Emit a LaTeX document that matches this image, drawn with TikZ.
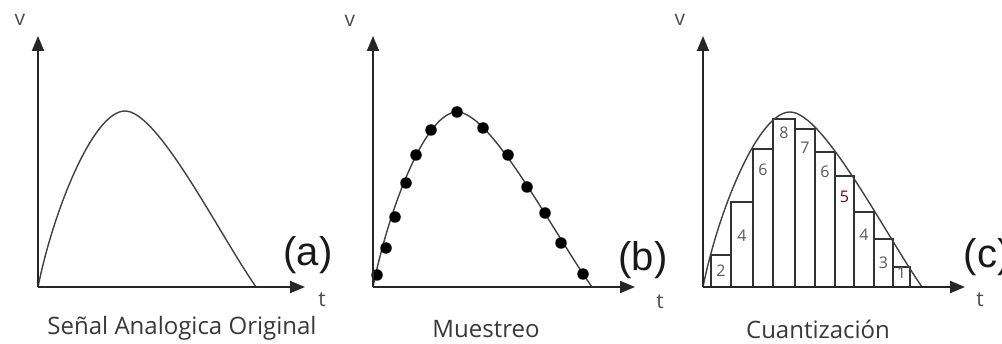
\documentclass[tikz,border=0pt]{standalone}
\usepackage{fontspec}
\setmainfont{Open Sans}
\newfontfamily\tagfont{Liberation Sans}
\usetikzlibrary{arrows.meta}
\begin{document}
\begin{tikzpicture}[x=1pt, y=1pt,
    axis/.style={draw=black!85, line width=2pt, -{Triangle[length=15pt,width=12pt]}},
    curve/.style={draw=black!75, line width=1.4pt},
    sample/.style={circle, fill=black, inner sep=0pt, minimum size=11.5pt},
    level/.style={draw=black!80, line width=1.2pt},
    axlabel/.style={text=black!70, font=\fontsize{21}{21}\selectfont},
    tag/.style={text=black!90, font=\tagfont\fontsize{40}{40}\selectfont},
    caption/.style={text=black!78, font=\fontsize{24}{24}\selectfont},
    num/.style={font=\fontsize{16}{16}\selectfont}]
    \useasboundingbox (0,0) rectangle (1002,343);
    % (a) analog signal
    \begin{scope}[shift={(38,56)}]
        \coordinate (oa) at (0,0);
        \coordinate (va) at (0,251);
        \coordinate (ta) at (267,0);
        \coordinate (pa) at (87,176);
        \coordinate (ea) at (218,0);
        \draw[curve] (oa) .. controls (15,75) and (55,176) .. (pa) .. controls (120,176) and (180,55) .. (ea);
        \draw[axis] (oa) -- (va);
        \draw[axis] (oa) -- (ta);
        \node[axlabel] (lva) at (-18,267) {v};
        \node[axlabel] (lta) at (284,-13) {t};
        \node[tag] (tga) at (270,32) {(a)};
        \node[caption] (cpa) at (144,-41) {Señal Analogica Original};
    \end{scope}
    % (b) sampling
    \begin{scope}[shift={(373,56)}]
        \coordinate (ob) at (0,0);
        \coordinate (vb) at (0,251);
        \coordinate (tb) at (262,0);
        \coordinate (pb) at (84,175);
        \coordinate (eb) at (219,0);
        \draw[curve] (ob) .. controls (15,75) and (52,175) .. (pb) .. controls (118,175) and (180,55) .. (eb);
        \foreach \sx/\sy [count=\i] in {4/12, 13/39, 22/70, 33/104, 43/132, 58/157, 84/175,
            110/159, 135/132, 154/100, 172/74, 188/44, 210/13}
            \node[sample] (s\i) at (\sx,\sy) {};
        \draw[axis] (ob) -- (vb);
        \draw[axis] (ob) -- (tb);
        \node[axlabel] (lvb) at (-23,266) {v};
        \node[axlabel] (ltb) at (287,-15) {t};
        \node[tag] (tgb) at (270,27) {(b)};
        \node[caption] (cpb) at (113,-42) {Muestreo};
    \end{scope}
    % (c) quantization
    \begin{scope}[shift={(703,56)}]
        \coordinate (oc) at (0,0);
        \coordinate (vc) at (0,251);
        \coordinate (tc) at (262,0);
        \coordinate (pc) at (87,175);
        \coordinate (ec) at (219,0);
        \foreach \xa/\xb/\h/\n/\ly/\c [count=\i] in {8/28/32/2/16/black!65, 28/50/85/4/51/black!65,
            50/70/138/6/117/black!65, 70/92/168/8/154/black!65, 92/112/158/7/139/black!65,
            112/132/135/6/115/black!65, 132/151/111/5/90/red!45!black, 151/171/75/4/52/black!65,
            171/190/48/3/24/black!65, 190/207/20/1/14/black!65}
        {
            \draw[level] (\xa,0) rectangle (\xb,\h);
            \node[num, text=\c] (q\i) at ({(\xa+\xb)/2},\ly) {\n};
        }
        \draw[curve] (oc) .. controls (15,75) and (55,175) .. (pc) .. controls (120,175) and (181,55) .. (ec);
        \draw[axis] (oc) -- (vc);
        \draw[axis] (oc) -- (tc);
        \node[axlabel] (lvc) at (-23,267) {v};
        \node[axlabel] (ltc) at (277,-13) {t};
        \node[tag] (tgc) at (284,30) {(c)};
        \node[caption] (cpc) at (115,-42) {Cuantización};
    \end{scope}
\end{tikzpicture}
\end{document}
